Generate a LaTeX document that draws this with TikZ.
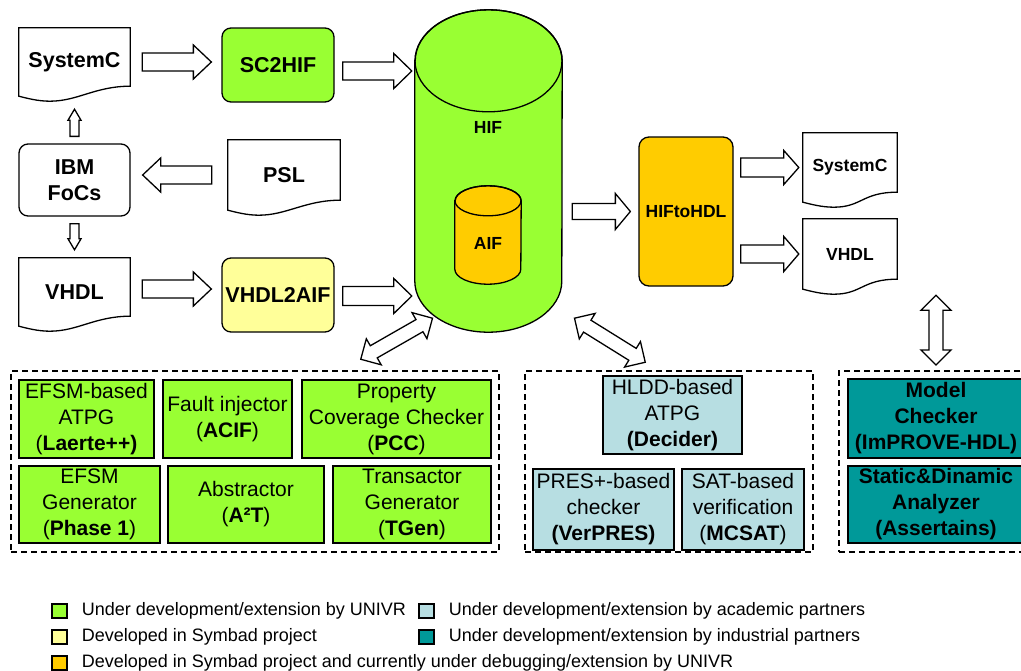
\documentclass[tikz,border=0pt]{standalone}
\usepackage{fontspec}
\setmainfont{Liberation Sans}
\usetikzlibrary{shapes.geometric, calc, positioning}

\definecolor{univr}{RGB}{153,255,51}
\definecolor{symbad}{RGB}{255,255,153}
\definecolor{debug}{RGB}{255,204,0}
\definecolor{academic}{RGB}{183,222,226}
\definecolor{industry}{RGB}{0,153,153}

\begin{document}
\begin{tikzpicture}[
    x=1pt, y=-1pt,
    lbl/.style={font=\fontsize{21.5}{26}\selectfont\bfseries, align=center},
    lbls/.style={font=\fontsize{17.5}{21}\selectfont\bfseries, align=center},
    tool/.style={lbl, draw, line width=1.3pt, rounded corners=9pt, minimum width=112, minimum height=74, inner sep=0pt},
    docfile/.style={lbl, minimum width=#1, minimum height=68, inner sep=0pt,
        append after command={\pgfextra{\draw[line width=1.3pt, line join=miter]
            (\tikzlastnode.north west) -- (\tikzlastnode.north east)
            -- ([yshift=10pt]\tikzlastnode.south east)
            .. controls +(-35,0) and +(28,0) .. ([xshift=31pt,yshift=-5pt]\tikzlastnode.south west)
            .. controls +(-12,0) and +(8,2) .. (\tikzlastnode.south west) -- cycle;}}},
    drum/.style={line width=1.3pt, line join=miter},
    comp/.style={draw, line width=2pt, align=center, font=\fontsize{21}{26}\selectfont, inner sep=0pt, minimum height=78},
    grpbox/.style={draw, line width=1.5pt, dash pattern=on 6pt off 4pt, minimum height=181},
    legkey/.style={draw, line width=1.3pt, minimum width=15, minimum height=14, inner sep=0pt},
    legtext/.style={font=\fontsize{18}{20}\selectfont, inner sep=0pt},
    fatline/.style={draw, fill=white, line width=1.3pt, line join=miter},
    fat/.style n args={3}{fatline, to path={
        ($(\tikztostart)!#1!90:(\tikztotarget)$)
        -- ($($(\tikztotarget)!#3!(\tikztostart)$)!#1!90:(\tikztotarget)$)
        -- ($($(\tikztotarget)!#3!(\tikztostart)$)!#2!90:(\tikztotarget)$)
        -- (\tikztotarget)
        -- ($($(\tikztotarget)!#3!(\tikztostart)$)!#2!-90:(\tikztotarget)$)
        -- ($($(\tikztotarget)!#3!(\tikztostart)$)!#1!-90:(\tikztotarget)$)
        -- ($(\tikztostart)!#1!-90:(\tikztotarget)$)
        -- cycle}},
    dblfat/.style n args={3}{fatline, to path={
        (\tikztostart)
        -- ($($(\tikztostart)!#3!(\tikztotarget)$)!#2!90:(\tikztotarget)$)
        -- ($($(\tikztostart)!#3!(\tikztotarget)$)!#1!90:(\tikztotarget)$)
        -- ($($(\tikztotarget)!#3!(\tikztostart)$)!#1!90:(\tikztotarget)$)
        -- ($($(\tikztotarget)!#3!(\tikztostart)$)!#2!90:(\tikztotarget)$)
        -- (\tikztotarget)
        -- ($($(\tikztotarget)!#3!(\tikztostart)$)!#2!-90:(\tikztotarget)$)
        -- ($($(\tikztotarget)!#3!(\tikztostart)$)!#1!-90:(\tikztotarget)$)
        -- ($($(\tikztostart)!#3!(\tikztotarget)$)!#1!-90:(\tikztotarget)$)
        -- ($($(\tikztostart)!#3!(\tikztotarget)$)!#2!-90:(\tikztotarget)$)
        -- cycle}}
]
\useasboundingbox (0,0) rectangle (1021,670);
\clip (0,0) rectangle (1021,670);

% input side
\node[docfile=111] (sysL) at (74.5,62) {SystemC};
\node[tool, fill=univr] (sc2hif) at (278,65) {SC2HIF};
\node[tool, minimum width=111, minimum height=72] (ibm) at (74.5,180) {IBM\\FoCs};
\node[docfile=112, minimum height=70] (psl) at (284,175) {PSL};
\node[docfile=111] (vhdlL) at (74.5,292) {VHDL};
\node[tool, fill=symbad] (vhdl2aif) at (278,295) {VHDL2AIF};

% intermediate format (HIF drum with AIF drum inside)
\node[minimum width=147, minimum height=322, inner sep=0pt] (hif) at (488.5,171) {};
\node[minimum width=66, minimum height=98, inner sep=0pt] (aif) at (488,235) {};
\filldraw[drum, fill=univr] ($(hif.north west)+(0,51)$) -- ($(hif.south west)+(0,-51)$)
    arc[start angle=180, end angle=360, x radius=73.5pt, y radius=51pt]
    -- ($(hif.north east)+(0,51)$)
    arc[start angle=0, end angle=180, x radius=73.5pt, y radius=51pt] -- cycle;
\draw[drum] ($(hif.north)+(0,51)$) ellipse [x radius=73.5pt, y radius=51pt];
\filldraw[drum, fill=debug] ($(aif.north west)+(0,15)$) -- ($(aif.south west)+(0,-15)$)
    arc[start angle=180, end angle=360, x radius=33pt, y radius=15pt]
    -- ($(aif.north east)+(0,15)$)
    arc[start angle=0, end angle=180, x radius=33pt, y radius=15pt] -- cycle;
\draw[drum] ($(aif.north)+(0,15)$) ellipse [x radius=33pt, y radius=15pt];
\node[lbls] (hiftext) at (488,127) {HIF};
\node[lbls] (aiftext) at (488,243) {AIF};

% output side
\node[tool, lbls, fill=debug, minimum width=94, minimum height=149, rounded corners=10pt] (hif2hdl) at (686,211.5) {HIFtoHDL};
\node[docfile=94, lbls, minimum height=69] (sysR) at (850,167.5) {SystemC};
\node[docfile=94, lbls, minimum height=70] (vhdlR) at (850,254) {VHDL};

% tool groups
\node[grpbox, minimum width=488] (grp1) at (255,461.5) {};
\node[grpbox, minimum width=288] (grp2) at (669,461.5) {};
\node[grpbox, minimum width=190] (grp3) at (934,461.5) {};

\node[comp, fill=univr, minimum width=135] (laerte) at (86.5,419) {EFSM-based\\ATPG\\(\textbf{Laerte++)}};
\node[comp, fill=univr, minimum width=129] (acif) at (227.5,419) {Fault injector\\(\textbf{ACIF})};
\node[comp, fill=univr, minimum width=189] (pcc) at (396.5,419) {Property\\Coverage Checker\\(\textbf{PCC})};
\node[comp, fill=univr, minimum width=141, minimum height=77] (phase1) at (89.5,504.5) {EFSM\\Generator\\(\textbf{Phase 1})};
\node[comp, fill=univr, minimum width=156, minimum height=77] (a2t) at (246,504.5) {Abstractor\\(\textbf{A²T})};
\node[comp, fill=univr, minimum width=158, minimum height=77] (tgen) at (412,504.5) {Transactor\\Generator\\(\textbf{TGen})};

\node[comp, fill=academic, minimum width=139] (decider) at (672.5,415) {HLDD-based\\ATPG\\\textbf{(Decider)}};
\node[comp, fill=academic, minimum width=141, minimum height=81] (verpres) at (603.5,509.5) {PRES+-based\\checker\\\textbf{(VerPRES)}};
\node[comp, fill=academic, minimum width=122, minimum height=81] (mcsat) at (743,509.5) {SAT-based\\verification\\(\textbf{MCSAT})};

\node[comp, fill=industry, font=\fontsize{21}{26}\selectfont\bfseries, minimum width=176, minimum height=79] (improve) at (936,418.5) {Model\\Checker\\(ImPROVE-HDL)};
\node[comp, fill=industry, font=\fontsize{21}{26}\selectfont\bfseries, minimum width=176, minimum height=77] (assert) at (936,504.5) {Static\&Dinamic\\Analyzer\\(Assertains)};

% block arrows
\draw[fat={9pt}{17pt}{18pt}] ($(sysL.east)+(12,0)$) to ($(sysL.east -| sc2hif.west)+(-10,0)$);
\draw[fat={9pt}{17.5pt}{18pt}] ($(sc2hif.east)+(8,6)$) to ($(sc2hif.east -| hif.west)+(-3,6)$);
\draw[fat={9pt}{17pt}{18pt}] ($(psl.west)+(-16,0)$) to ($(psl.west -| ibm.east)+(12,0)$);
\draw[fat={4.5pt}{6.5pt}{11pt}] ($(ibm.north)+(0,-7)$) to ($(sysL.south)+(0,13)$);
\draw[fat={4.5pt}{6.5pt}{11pt}] ($(ibm.south)+(0,7)$) to ($(vhdlL.north)+(0,-8)$);
\draw[fat={9pt}{17pt}{18pt}] ($(vhdlL.east)+(12,-3)$) to ($(vhdlL.east -| vhdl2aif.west)+(-10,-3)$);
\draw[fat={9.5pt}{17.5pt}{18pt}] ($(vhdl2aif.east)+(8,1)$) to ($(vhdl2aif.east -| hif.west)+(-3,1)$);
\draw[fat={8pt}{18pt}{15pt}] ($(hif2hdl.west -| hif.east)+(10,0)$) to ($(hif2hdl.west)+(-8,0)$);
\draw[fat={9.5pt}{17pt}{15pt}] ($(sysR.west -| hif2hdl.east)+(7,0)$) to ($(sysR.west)+(-4,0)$);
\draw[fat={9pt}{17.5pt}{15pt}] ($(vhdlR.west -| hif2hdl.east)+(7,0)$) to ($(vhdlR.west)+(-4,0)$);
\draw[dblfat={7pt}{15pt}{15pt}] ($(vhdlR.south -| improve.north)+(0,6)$) to ($(improve.north)+(0,-13)$);
\draw[dblfat={7pt}{15pt}{15pt}] ($(hif.south)+(-56,-14)$) to ($(grp1.north east)+(-139,-11)$);
\draw[dblfat={7pt}{15pt}{15pt}] ($(hif.south)+(86,-14)$) to ($(grp2.north west)+(121,-8)$);

% legend
\node[legkey, fill=univr] (k1) at (59.5,611) {};
\node[legtext, right=14pt of k1] (t1) {Under development/extension by UNIVR};
\node[legkey, fill=symbad] (k2) at (59.5,637) {};
\node[legtext, right=14pt of k2] (t2) {Developed in Symbad project};
\node[legkey, fill=debug] (k3) at (59.5,663) {};
\node[legtext, right=14pt of k3] (t3) {Developed in Symbad project and currently under debugging/extension by UNIVR};
\node[legkey, fill=academic] (k4) at (426.5,611) {};
\node[legtext, right=14pt of k4] (t4) {Under development/extension by academic partners};
\node[legkey, fill=industry] (k5) at (426.5,637) {};
\node[legtext, right=14pt of k5] (t5) {Under development/extension by industrial partners};
\end{tikzpicture}
\end{document}
